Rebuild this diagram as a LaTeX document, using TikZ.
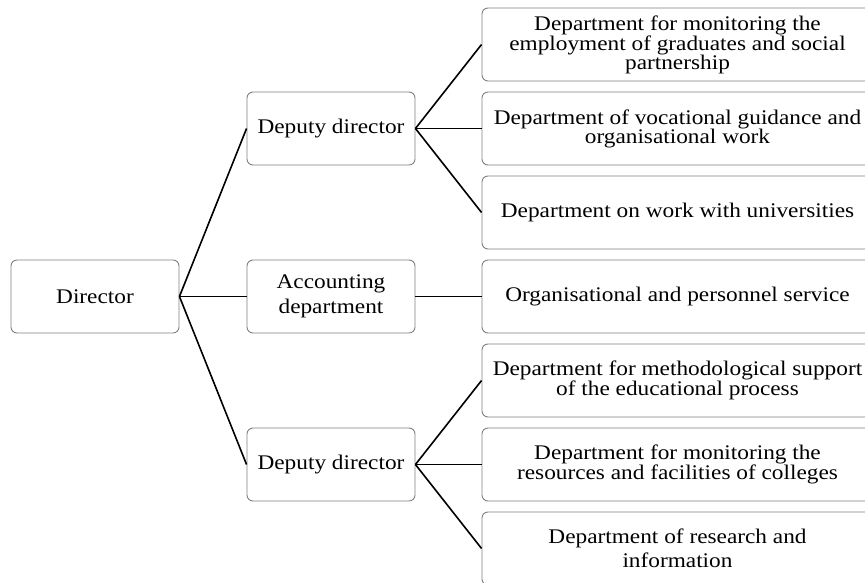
\documentclass[tikz,border=0pt]{standalone}
\usepackage{fontspec}
\setmainfont{Liberation Serif}[FakeStretch=1.12]
\begin{document}
\begin{tikzpicture}[x=1pt,y=-1pt,
  box/.style={draw=black!50, line width=0.9pt, rounded corners=6pt, inner sep=0pt,
    align=center, font=\fontsize{20.8}{19}\selectfont},
  lbox/.style={box, minimum width=168pt, minimum height=73pt},
  rbox/.style={box, minimum width=391pt, minimum height=73pt},
  wide/.style={font=\fontsize{20.8}{24.5}\selectfont},
  link/.style={draw=black, line width=1.6pt}]
\useasboundingbox (0,0) rectangle (865,583);
\node[lbox] (dir) at (95,296.5) {Director};
\node[lbox] (dd1) at (331,128.5) {Deputy director};
\node[lbox, wide] (acc) at (331,296.5) {Accounting\\department};
\node[lbox] (dd2) at (331,464.5) {Deputy director};
\node[rbox] (r1) at (677.5,44.5) {Department for monitoring the\\employment of graduates and social\\partnership};
\node[rbox] (r2) at (677.5,128.5) {Department of vocational guidance and\\organisational work};
\node[rbox] (r3) at (677.5,212.5) {Department on work with universities};
\node[rbox] (r4) at (677.5,296.5) {Organisational and personnel service};
\node[rbox] (r5) at (677.5,380.5) {Department for methodological support\\of the educational process};
\node[rbox] (r6) at (677.5,464.5) {Department for monitoring the\\resources and facilities of colleges};
\node[rbox, wide] (r7) at (677.5,548.5) {Department of research and\\information};
\draw[link] (dir.east) -- (dd1.west);
\draw[link] (dir.east) -- (acc.west);
\draw[link] (dir.east) -- (dd2.west);
\draw[link] (dd1.east) -- (r1.west);
\draw[link] (dd1.east) -- (r2.west);
\draw[link] (dd1.east) -- (r3.west);
\draw[link] (acc.east) -- (r4.west);
\draw[link] (dd2.east) -- (r5.west);
\draw[link] (dd2.east) -- (r6.west);
\draw[link] (dd2.east) -- (r7.west);
\end{tikzpicture}
\end{document}
